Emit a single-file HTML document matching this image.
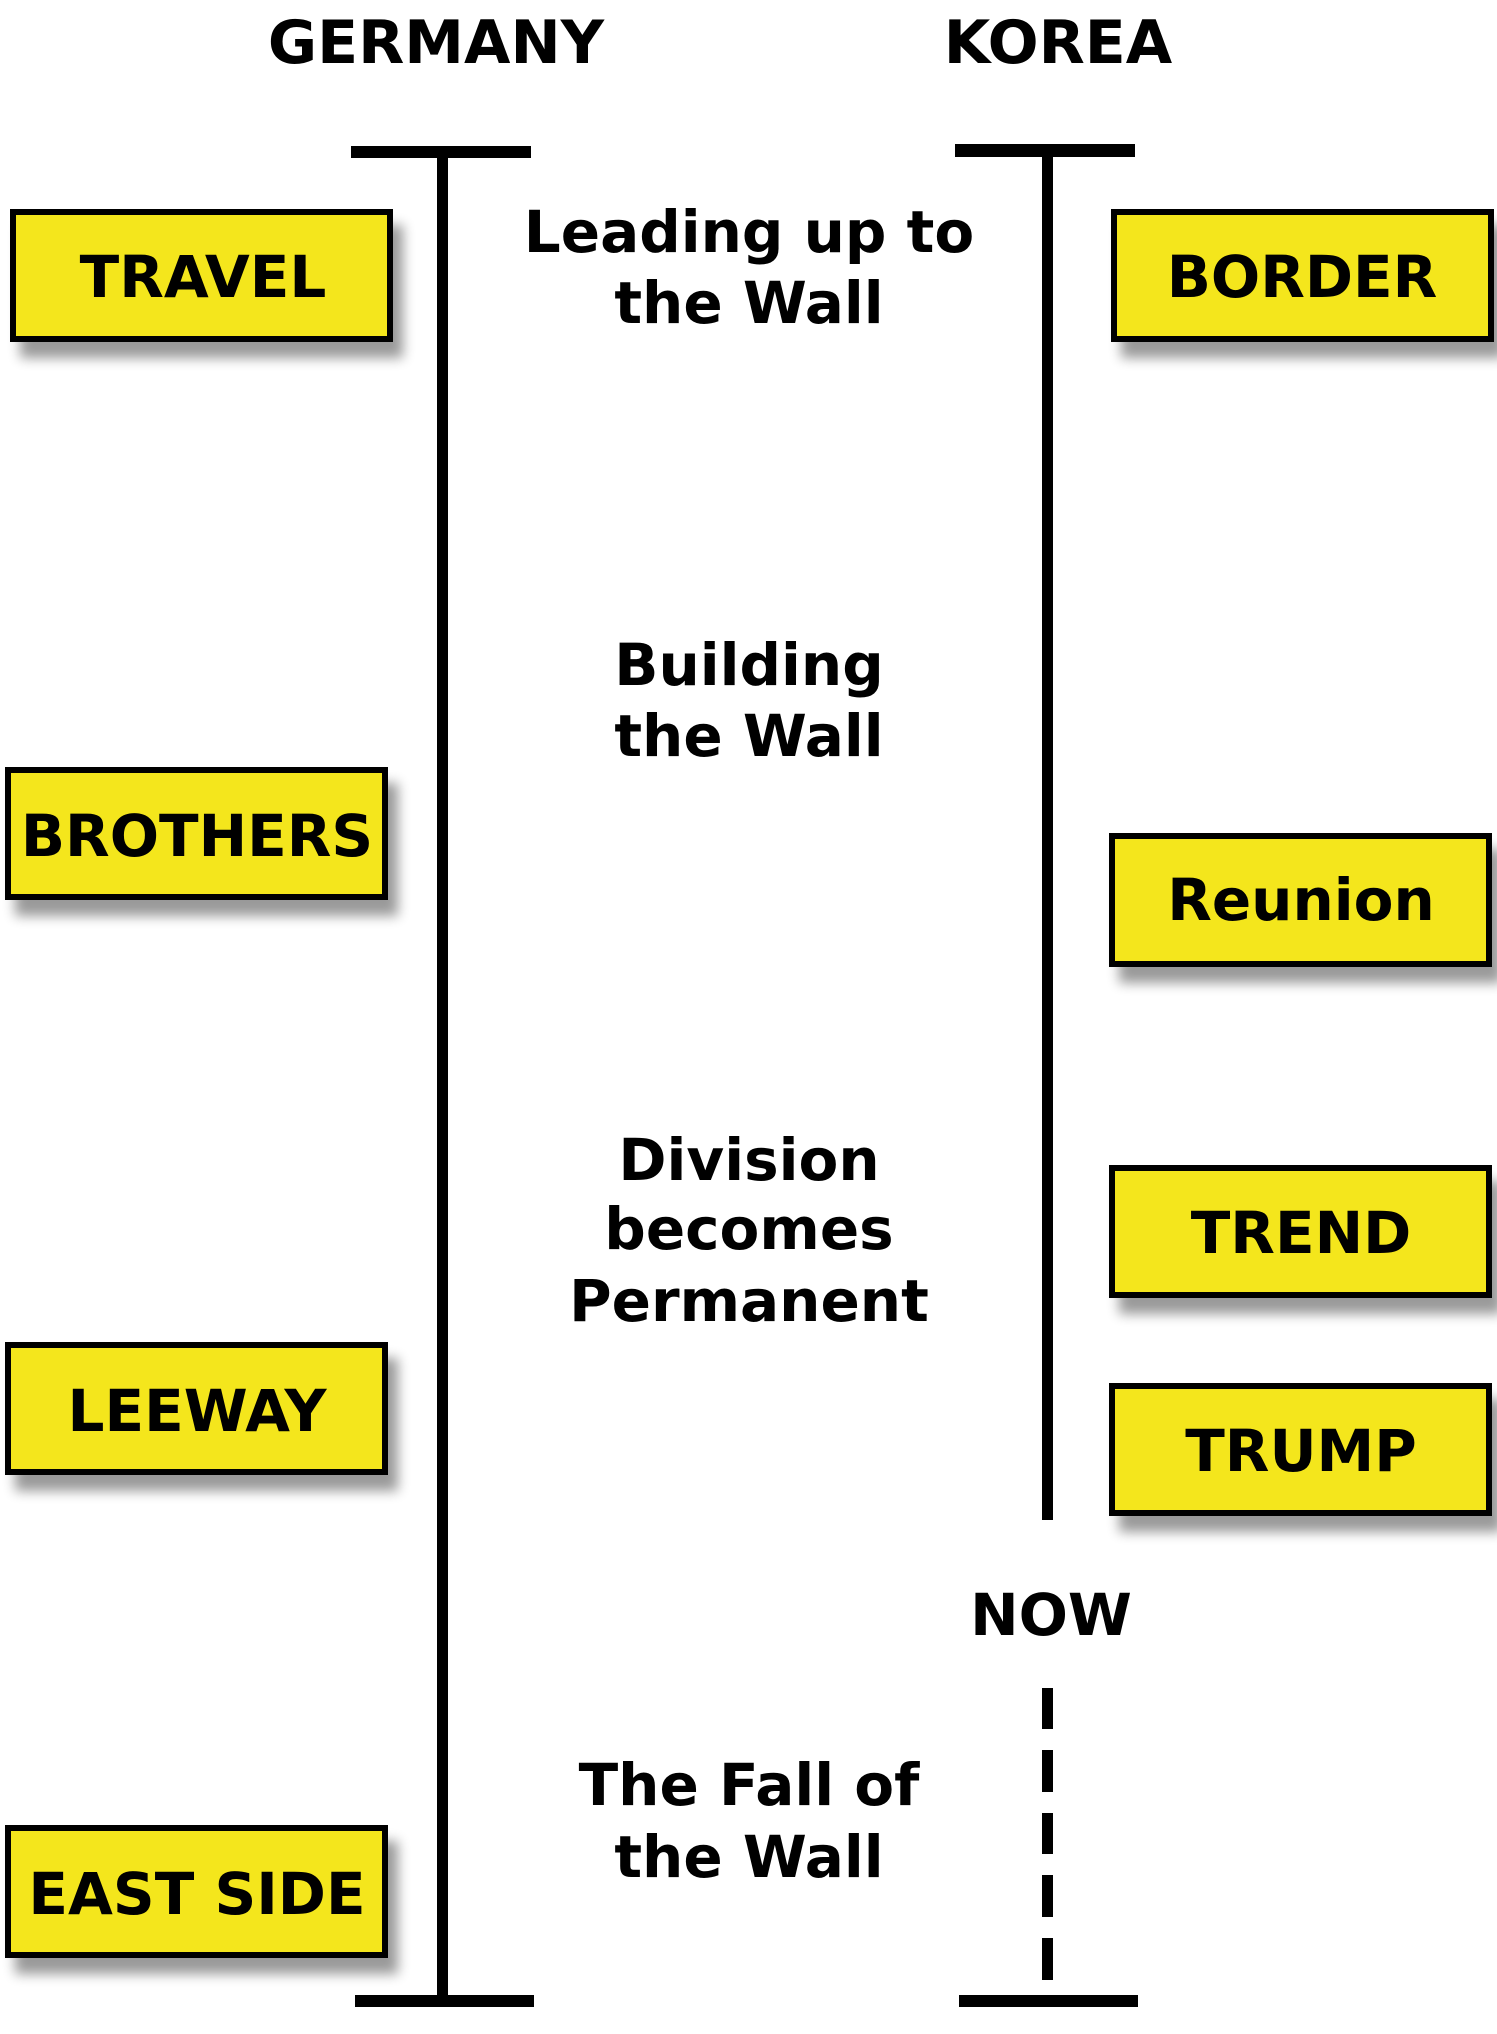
<!DOCTYPE html>
<html><head><meta charset="utf-8"><style>
html,body{margin:0;padding:0;background:#fff}
svg{display:block}
text{font-family:"DejaVu Sans","Liberation Sans",sans-serif;font-weight:bold;fill:#000}
</style></head><body>
<svg width="1497" height="2034" viewBox="0 0 1497 2034" xmlns="http://www.w3.org/2000/svg">
<defs>
<filter id="sh" x="-10%" y="-20%" width="130%" height="160%">
<feGaussianBlur in="SourceAlpha" stdDeviation="6"/>
<feOffset dx="10" dy="16"/>
<feComponentTransfer><feFuncA type="linear" slope="0.4"/></feComponentTransfer>
<feMerge><feMergeNode/><feMergeNode in="SourceGraphic"/></feMerge>
</filter>
</defs>
<text x="436" y="63" font-size="60" text-anchor="middle">GERMANY</text>
<text x="1058" y="63" font-size="60" text-anchor="middle">KOREA</text>

<!-- Germany line -->
<rect x="351" y="146" width="180" height="12"/>
<rect x="437" y="152" width="11" height="1850"/>
<rect x="355" y="1995" width="179" height="12"/>
<!-- Korea line -->
<rect x="955" y="144" width="180" height="13"/>
<rect x="1042" y="150" width="11" height="1370"/>
<g>
<rect x="1042" y="1688" width="11" height="41"/>
<rect x="1042" y="1750" width="11" height="42"/>
<rect x="1042" y="1813" width="11" height="41"/>
<rect x="1042" y="1875" width="11" height="42"/>
<rect x="1042" y="1938" width="11" height="42"/>
</g>
<rect x="959" y="1995" width="179" height="12"/>

<g font-size="58" text-anchor="middle">
<text x="749" y="252">Leading up to</text>
<text x="749" y="323">the Wall</text>
<text x="749" y="685">Building</text>
<text x="749" y="756">the Wall</text>
<text x="749" y="1180">Division</text>
<text x="749" y="1249">becomes</text>
<text x="749" y="1321">Permanent</text>
<text x="749" y="1805">The Fall of</text>
<text x="749" y="1877">the Wall</text>
<text x="1051" y="1635">NOW</text>
</g>

<g filter="url(#sh)" fill="#f4e61e" stroke="#000" stroke-width="6">
<rect x="13" y="212" width="377" height="127"/>
<rect x="8" y="770" width="377" height="127"/>
<rect x="8" y="1345" width="377" height="127"/>
<rect x="8" y="1828" width="377" height="127"/>
<rect x="1114" y="212" width="377" height="127"/>
<rect x="1112" y="836" width="377" height="128"/>
<rect x="1112" y="1168" width="377" height="127"/>
<rect x="1112" y="1386" width="377" height="127"/>
</g>
<g font-size="58" text-anchor="middle">
<text x="203" y="297">TRAVEL</text>
<text x="197" y="856">BROTHERS</text>
<text x="197" y="1431">LEEWAY</text>
<text x="197" y="1914">EAST SIDE</text>
<text x="1302" y="297">BORDER</text>
<text x="1301" y="920">Reunion</text>
<text x="1301" y="1253">TREND</text>
<text x="1301" y="1471">TRUMP</text>
</g>
</svg>
</body></html>
